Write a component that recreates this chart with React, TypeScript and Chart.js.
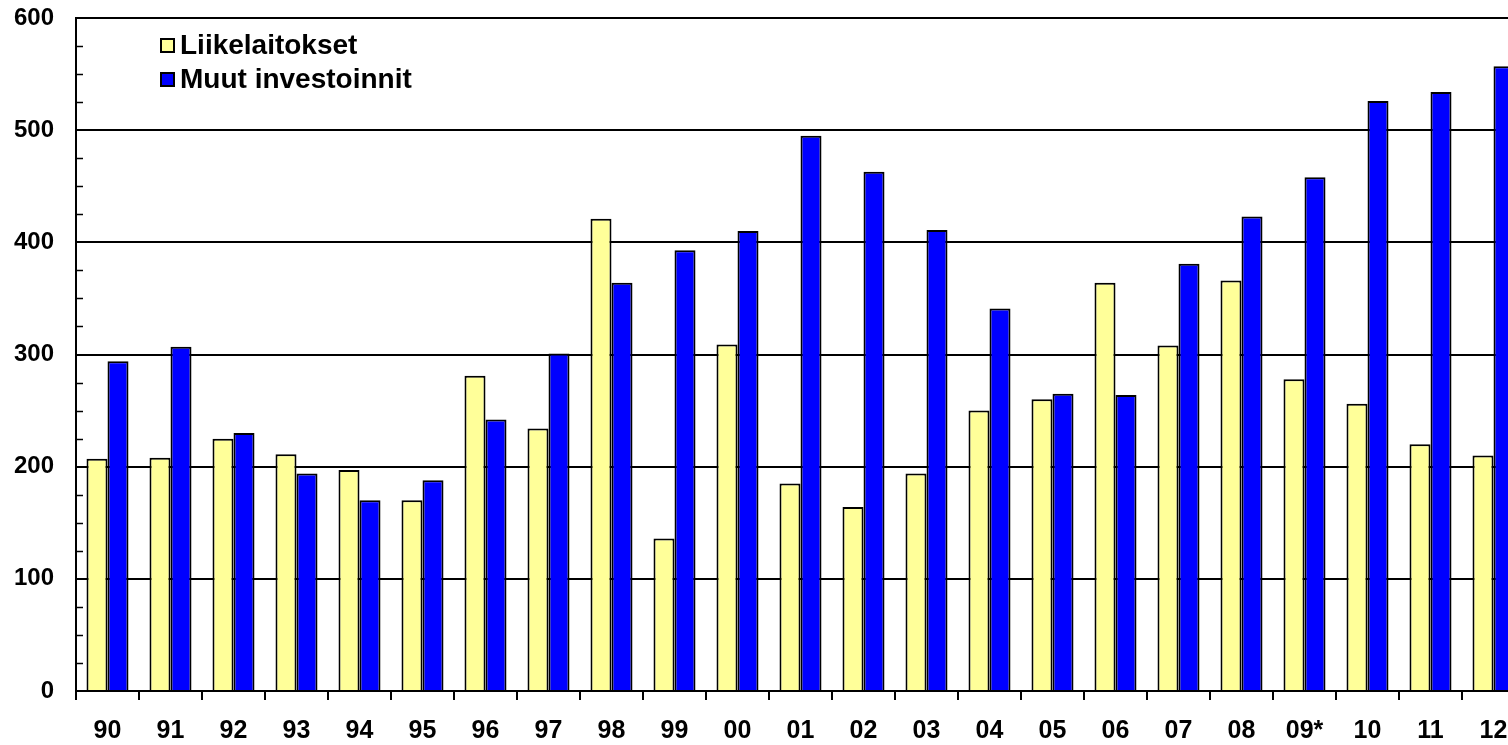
import { useEffect, useRef } from "react";
import { Chart, registerables } from "chart.js";

Chart.register(...registerables);

const categories = ["90", "91", "92", "93", "94", "95", "96", "97", "98", "99", "00", "01", "02", "03", "04", "05", "06", "07", "08", "09*", "10", "11", "12"];
const liikelaitokset = [207, 208, 225, 211, 197, 170, 281, 234, 421, 136, 309, 185, 164, 194, 250, 260, 364, 308, 366, 278, 256, 220, 210];
const muutInvestoinnit = [294, 307, 230, 194, 170, 188, 242, 301, 364, 393, 410, 495, 463, 411, 341, 265, 264, 381, 423, 458, 526, 534, 557];
const seriesNames = ["Liikelaitokset", "Muut investoinnit"];
const seriesColors = ["#FFFF99", "#0000FF"];
const yMin = 0;
const yMax = 600;
const yStep = 100;
const yMinorStep = 25;

const FONT = "'Liberation Sans', Arial, sans-serif";

const overlayPlugin = {
  id: "overlay",
  afterDatasetsDraw(chart: any) {
    const ctx = chart.ctx;
    const y = chart.scales.y;
    const left = chart.chartArea.left;
    ctx.save();
    ctx.strokeStyle = "#000";
    ctx.lineWidth = 1.5;
    for (let v = yMin; v <= yMax; v += yMinorStep) {
      if (v % yStep === 0) continue;
      const py = Math.round(y.getPixelForValue(v)) + 0.5;
      ctx.beginPath();
      ctx.moveTo(left, py);
      ctx.lineTo(left + 7, py);
      ctx.stroke();
    }
    ctx.restore();
  },
  afterDraw(chart: any) {
    const ctx = chart.ctx;
    ctx.save();
    const bx = 161;
    const by = 39;
    const lineGap = 34;
    const box = 13;
    chart.data.datasets.forEach((ds: any, i: number) => {
      const top = by + i * lineGap;
      ctx.fillStyle = ds.backgroundColor;
      ctx.fillRect(bx, top, box, box);
      ctx.strokeStyle = "#000";
      ctx.lineWidth = 2;
      ctx.strokeRect(bx, top, box, box);
      ctx.fillStyle = "#000";
      ctx.font = `bold 28px ${FONT}`;
      ctx.textBaseline = "middle";
      ctx.textAlign = "left";
      ctx.fillText(ds.label, bx + box + 6, top + box / 2 + 1);
    });
    ctx.restore();
  },
};

export default function App() {
  const ref = useRef<HTMLCanvasElement | null>(null);

  useEffect(() => {
    if (!ref.current) return;
    const chart = new Chart(ref.current, {
      type: "bar",
      data: {
        labels: categories,
        datasets: [
          {
            label: seriesNames[0],
            data: liikelaitokset,
            backgroundColor: seriesColors[0],
            borderColor: "#000",
            borderWidth: 2,
            categoryPercentage: 0.667,
            barPercentage: 1.0,
          },
          {
            label: seriesNames[1],
            data: muutInvestoinnit,
            backgroundColor: seriesColors[1],
            borderColor: "#000",
            borderWidth: 2,
            categoryPercentage: 0.667,
            barPercentage: 1.0,
          },
        ],
      },
      options: {
        responsive: false,
        animation: false,
        layout: { padding: { top: 18, right: 15, left: 0, bottom: 0 } },
        plugins: {
          legend: { display: false },
          tooltip: { enabled: false },
        },
        scales: {
          x: {
            offset: true,
            grid: {
              offset: true,
              drawOnChartArea: false,
              drawTicks: true,
              tickLength: 9,
              color: "#000",
              lineWidth: 2,
            },
            border: { display: true, color: "#000", width: 2 },
            ticks: {
              color: "#000",
              font: { family: FONT, size: 25, weight: "bold" },
              padding: 16,
              maxRotation: 0,
              autoSkip: false,
            },
            afterFit(s: any) {
              s.height = 54;
              s.paddingLeft = 0;
              s.paddingRight = 0;
            },
          },
          y: {
            min: yMin,
            max: yMax,
            ticks: {
              stepSize: yStep,
              color: "#000",
              font: { family: FONT, size: 24, weight: "bold" },
              padding: 22,
            },
            grid: {
              color: "#000",
              lineWidth: 2,
              drawTicks: false,
            },
            border: { display: true, color: "#000", width: 2 },
            afterFit(s: any) {
              s.width = 76;
              s.paddingTop = 0;
              s.paddingBottom = 0;
            },
          },
        },
      },
      plugins: [overlayPlugin],
    });
    return () => chart.destroy();
  }, []);

  return (
    <div
      style={{
        position: "fixed",
        left: 0,
        top: 0,
        width: 1508,
        height: 745,
        overflow: "hidden",
        background: "#fff",
      }}
    >
      <canvas ref={ref} width={1540} height={745} style={{ display: "block" }} />
    </div>
  );
}
